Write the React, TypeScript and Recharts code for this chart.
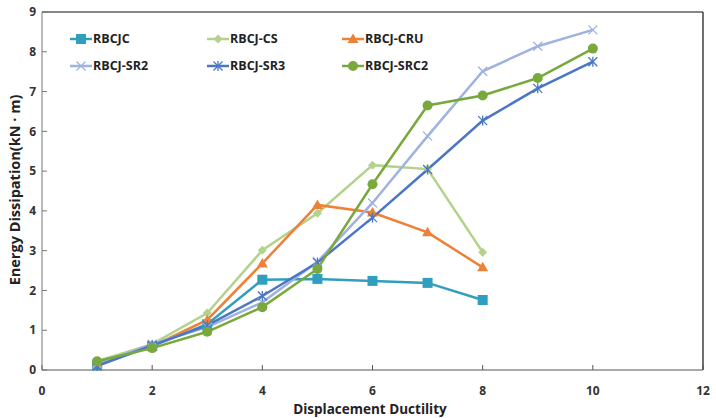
import React from 'react';
import {
    LineChart,
    Line,
    XAxis,
    YAxis,
    ReferenceLine,
    Label,
} from 'recharts';

// displacement ductility steps
const ductility = [1, 2, 3, 4, 5, 6, 7, 8, 9, 10];

// energy dissipation (kN·m) per specimen
const rbcjc = [0.12, 0.6, 1.15, 2.27, 2.29, 2.24, 2.19, 1.76];
const rbcjCs = [0.22, 0.65, 1.43, 3.01, 3.94, 5.15, 5.05, 2.96];
const rbcjCru = [0.15, 0.6, 1.26, 2.68, 4.15, 3.96, 3.46, 2.58];
const rbcjSr2 = [0.15, 0.65, 1.08, 1.7, 2.72, 4.2, 5.88, 7.51, 8.14, 8.55];
const rbcjSr3 = [0.1, 0.62, 1.12, 1.86, 2.7, 3.83, 5.04, 6.27, 7.08, 7.75];
const rbcjSrc2 = [0.22, 0.55, 0.96, 1.58, 2.54, 4.67, 6.65, 6.9, 7.34, 8.08];

const xTicks = [0, 2, 4, 6, 8, 10, 12];
const yTicks = [0, 1, 2, 3, 4, 5, 6, 7, 8, 9];

type MarkerKind = 'square' | 'diamond' | 'triangle' | 'cross' | 'star' | 'circle';

const series: { key: string; name: string; color: string; marker: MarkerKind; values: number[] }[] = [
    { key: 'rbcjc', name: 'RBCJC', color: '#2f9fbd', marker: 'square', values: rbcjc },
    { key: 'cs', name: 'RBCJ-CS', color: '#b4d28c', marker: 'diamond', values: rbcjCs },
    { key: 'cru', name: 'RBCJ-CRU', color: '#ee8138', marker: 'triangle', values: rbcjCru },
    { key: 'sr2', name: 'RBCJ-SR2', color: '#9fb2e0', marker: 'cross', values: rbcjSr2 },
    { key: 'sr3', name: 'RBCJ-SR3', color: '#4a76c4', marker: 'star', values: rbcjSr3 },
    { key: 'src2', name: 'RBCJ-SRC2', color: '#79a83d', marker: 'circle', values: rbcjSrc2 },
];

const data = ductility.map((x, i) => {
    const row: Record<string, number | null> = { x };
    series.forEach((s) => {
        row[s.key] = i < s.values.length ? s.values[i] : null;
    });
    return row;
});

const FONT = '"Open Sans", "DejaVu Sans", sans-serif';

function Marker({ kind, cx, cy, color }: { kind: MarkerKind; cx: number; cy: number; color: string }) {
    switch (kind) {
        case 'square':
            return <rect x={cx - 5} y={cy - 5} width={10} height={10} fill={color} />;
        case 'diamond':
            return <polygon points={`${cx},${cy - 4.5} ${cx + 4.5},${cy} ${cx},${cy + 4.5} ${cx - 4.5},${cy}`} fill={color} />;
        case 'triangle':
            return <polygon points={`${cx},${cy - 5.5} ${cx + 5.5},${cy + 4} ${cx - 5.5},${cy + 4}`} fill={color} />;
        case 'cross':
            return (
                <g stroke={color} strokeWidth={1.3}>
                    <line x1={cx - 4.5} y1={cy - 4.5} x2={cx + 4.5} y2={cy + 4.5} />
                    <line x1={cx - 4.5} y1={cy + 4.5} x2={cx + 4.5} y2={cy - 4.5} />
                </g>
            );
        case 'star':
            return (
                <g stroke={color} strokeWidth={1.3}>
                    <line x1={cx - 4.5} y1={cy - 4.5} x2={cx + 4.5} y2={cy + 4.5} />
                    <line x1={cx - 4.5} y1={cy + 4.5} x2={cx + 4.5} y2={cy - 4.5} />
                    <line x1={cx} y1={cy - 5} x2={cx} y2={cy + 5} />
                </g>
            );
        default:
            return <circle cx={cx} cy={cy} r={5} fill={color} />;
    }
}

function makeDot(kind: MarkerKind, color: string) {
    // eslint-disable-next-line @typescript-eslint/no-explicit-any
    return (props: any) => {
        const { cx, cy, index, value } = props;
        if (value == null || cx == null || cy == null) return <g key={`d-${index}`} />;
        return (
            <g key={`d-${index}`}>
                <Marker kind={kind} cx={cx} cy={cy} color={color} />
            </g>
        );
    };
}

// two rows of three entries, sitting inside the plot's top-left corner
function LegendBlock() {
    const cols = [0, 137, 272];
    return (
        <div style={{ position: 'absolute', left: 69, top: 31, width: 440, height: 50 }}>
            {series.map((s, i) => {
                const col = i % 3;
                const row = Math.floor(i / 3);
                return (
                    <div
                        key={s.key}
                        style={{
                            position: 'absolute',
                            left: cols[col],
                            top: row * 27,
                            display: 'flex',
                            alignItems: 'center',
                            fontFamily: FONT,
                            fontWeight: 700,
                            fontSize: 12.5,
                            lineHeight: '16px',
                            color: '#222',
                            whiteSpace: 'nowrap',
                        }}
                    >
                        <svg width={24} height={14}>
                            <line x1={1} y1={7} x2={23} y2={7} stroke={s.color} strokeWidth={2.5} />
                            <Marker kind={s.marker} cx={12} cy={7} color={s.color} />
                        </svg>
                        <span>{s.name}</span>
                    </div>
                );
            })}
        </div>
    );
}

export default function App() {
    return (
        <div style={{ position: 'absolute', left: 0, top: 0, width: 716, height: 418, background: '#fff', overflow: 'hidden' }}>
            <LineChart width={716} height={418} data={data} margin={{ top: 12, right: 13, bottom: 0, left: 0 }}>
                <XAxis
                    type="number"
                    dataKey="x"
                    domain={[0, 12]}
                    ticks={xTicks}
                    interval={0}
                    height={48}
                    stroke="#555"
                    tickSize={-5}
                    tickMargin={21}
                    tick={{ fontFamily: FONT, fontSize: 12, fontWeight: 700, fill: '#333' }}
                >
                    <Label
                        content={() => (
                            <text
                                x={370}
                                y={414}
                                textAnchor="middle"
                                style={{ fontFamily: FONT, fontSize: 13.5, fontWeight: 700, fill: '#222' }}
                            >
                                Displacement Ductility
                            </text>
                        )}
                    />
                </XAxis>
                <YAxis
                    type="number"
                    domain={[0, 9]}
                    ticks={yTicks}
                    interval={0}
                    width={42}
                    stroke="#777"
                    tickSize={-5}
                    tickMargin={11}
                    tick={{ fontFamily: FONT, fontSize: 12, fontWeight: 700, fill: '#333' }}
                >
                    <Label
                        content={() => (
                            <text
                                transform="translate(20,190) rotate(-90)"
                                textAnchor="middle"
                                style={{ fontFamily: FONT, fontSize: 14.5, fontWeight: 700, fill: '#222' }}
                            >
                                Energy Dissipation(kN · m)
                            </text>
                        )}
                    />
                </YAxis>
                <ReferenceLine y={9} stroke="#111" strokeWidth={1.2} />
                <ReferenceLine x={12} stroke="#111" strokeWidth={1.2} />
                {series.map((s) => (
                    <Line
                        key={s.key}
                        type="linear"
                        dataKey={s.key}
                        name={s.name}
                        stroke={s.color}
                        strokeWidth={2.5}
                        dot={makeDot(s.marker, s.color)}
                        activeDot={false}
                        isAnimationActive={false}
                    />
                ))}
            </LineChart>
            <LegendBlock />
        </div>
    );
}
